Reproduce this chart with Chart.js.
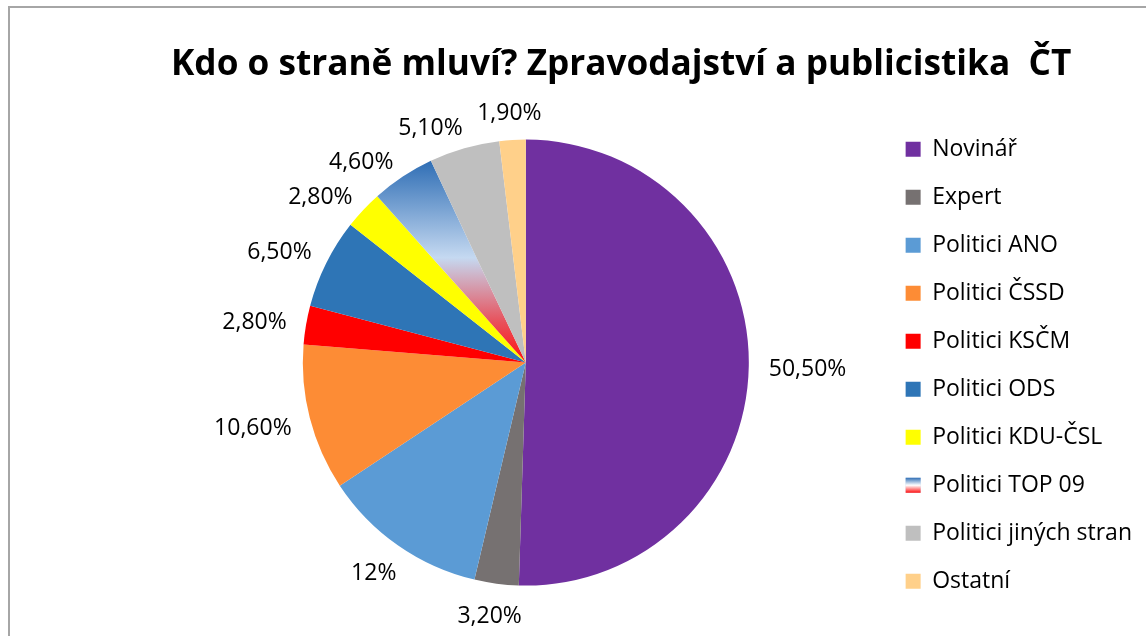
<!DOCTYPE html>
<html lang="cs">
<head>
<meta charset="utf-8">
<title>Kdo o straně mluví?</title>
<script src="https://cdn.jsdelivr.net/npm/chart.js@4.4.1/dist/chart.umd.min.js"></script>
<style>
    body { margin: 0; background: #fff; }
    #obal { position: relative; width: 1146px; height: 636px; }
    #graf { display: block; }
    #ramecek {
        position: absolute; left: 8px; top: 6px; right: 0; bottom: 0;
        border-left: 2px solid #A6A6A6; border-top: 2px solid #A6A6A6;
        pointer-events: none;
    }
</style>
</head>
<body>
<div id="obal">
    <canvas id="graf" width="1146" height="636"></canvas>
    <div id="ramecek"></div>
</div>
<script>
// Data grafu
const kategorie = ['Novinář', 'Expert', 'Politici ANO', 'Politici ČSSD', 'Politici KSČM',
    'Politici ODS', 'Politici KDU-ČSL', 'Politici TOP 09', 'Politici jiných stran', 'Ostatní'];
const podily = [50.5, 3.2, 12, 10.6, 2.8, 6.5, 2.8, 4.6, 5.1, 1.9];

// Barvy výsečí (TOP 09 dostane přechod v pluginu)
const barvy = ['#7030A0', '#767171', '#5B9BD5', '#FD8C35', '#FF0000',
    '#2E75B6', '#FFFF00', '#C5D9F1', '#BFBFBF', '#FFD08A'];
const indexTop09 = 7;

function formatPodil(v) {
    if (Number.isInteger(v)) return v + '%';
    return v.toFixed(2).replace('.', ',') + '%';
}

function pridejZastavky(g) {
    g.addColorStop(0, '#2F6EB5');
    g.addColorStop(0.48, '#C5D9F1');
    g.addColorStop(0.8, '#E8505A');
    g.addColorStop(1, '#FF1010');
}

// Přechod pro výseč TOP 09 a její čtvereček v legendě
const prechodPlugin = {
    id: 'prechodTop09',
    beforeDatasetsDraw(chart) {
        const arc = chart.getDatasetMeta(0).data[indexTop09];
        if (!arc) return;
        const p = arc.getProps(['x', 'y', 'startAngle', 'endAngle', 'outerRadius'], true);
        const yHore = p.y + p.outerRadius * Math.min(Math.sin(p.startAngle), Math.sin(p.endAngle));
        const g = chart.ctx.createLinearGradient(0, yHore, 0, p.y);
        pridejZastavky(g);
        arc.options.backgroundColor = g;
    },
    afterDraw(chart) {
        const legenda = chart.legend;
        if (!legenda || !legenda.legendHitBoxes) return;
        const hb = legenda.legendHitBoxes[indexTop09];
        const opts = legenda.options.labels;
        const vyskaPolozky = Math.max(opts.font.size, opts.boxHeight);
        const x = hb.left;
        const y = hb.top + (vyskaPolozky - opts.boxHeight) / 2;
        const ctx = chart.ctx;
        const g = ctx.createLinearGradient(0, y, 0, y + opts.boxHeight);
        g.addColorStop(0, '#2F6EB5');
        g.addColorStop(0.5, '#FFFFFF');
        g.addColorStop(1, '#FF1010');
        ctx.save();
        ctx.fillStyle = g;
        ctx.fillRect(x, y, opts.boxWidth, opts.boxHeight);
        ctx.restore();
    }
};

// Popisky hodnot vně výsečí, s jednoduchým odsunutím při překryvu
const popiskyPlugin = {
    id: 'popisky',
    afterDatasetsDraw(chart, args, opts) {
        const ctx = chart.ctx;
        const meta = chart.getDatasetMeta(0);
        ctx.save();
        ctx.font = opts.font;
        ctx.fillStyle = opts.color;
        ctx.textAlign = 'center';
        ctx.textBaseline = 'middle';

        const polozky = meta.data.map((arc, i) => {
            const p = arc.getProps(['x', 'y', 'startAngle', 'endAngle', 'outerRadius'], true);
            const text = formatPodil(podily[i]);
            return { p, text, w: ctx.measureText(text).width, uhel: (p.startAngle + p.endAngle) / 2 };
        });

        const poloha = (o, uhel) => {
            const cos = Math.cos(uhel), sin = Math.sin(uhel);
            const d = o.p.outerRadius + opts.odsazeni;
            const x = o.p.x + cos * d + cos * o.w / 2;
            const y = o.p.y + sin * d + sin * opts.vyska / 2;
            return { x, y };
        };
        const prekryv = (a, b) => {
            const pa = poloha(a, a.uhel), pb = poloha(b, b.uhel);
            const dx = Math.abs(pa.x - pb.x) - (a.w + b.w) / 2;
            const dy = Math.abs(pa.y - pb.y) - opts.vyska;
            return dx < opts.mezera && dy < opts.mezera;
        };

        // od posledního popisku proti směru hodinových ručiček
        for (let i = polozky.length - 2; i >= 1; i--) {
            let krok = 0;
            while (prekryv(polozky[i], polozky[i + 1]) && krok < 200) {
                polozky[i].uhel -= Math.PI / 720;
                krok++;
            }
        }

        polozky.forEach(o => {
            const pos = poloha(o, o.uhel);
            ctx.fillText(o.text, pos.x, pos.y + opts.posunY);
        });
        ctx.restore();
    }
};

Chart.defaults.font.family = "'Open Sans', sans-serif";
Chart.defaults.color = '#000';

new Chart(document.getElementById('graf'), {
    type: 'pie',
    data: {
        labels: kategorie,
        datasets: [{
            data: podily,
            backgroundColor: barvy,
            borderWidth: 0,
            hoverOffset: 0,
            radius: 223
        }]
    },
    options: {
        responsive: false,
        animation: false,
        events: [],
        layout: {
            padding: { left: 171, right: 4, top: 10, bottom: 5 }
        },
        plugins: {
            title: {
                display: true,
                text: 'Kdo o straně mluví? Zpravodajství a publicistika  ČT',
                align: 'start',
                color: '#000',
                font: { size: 35.2, weight: 'bold' },
                padding: { top: 34, bottom: 8 }
            },
            legend: {
                position: 'right',
                title: {
                    display: true,
                    text: '',
                    font: { size: 10 },
                    padding: { top: 0, bottom: 77.5 }
                },
                labels: {
                    boxWidth: 15,
                    boxHeight: 15,
                    padding: 25,
                    color: '#000',
                    font: { size: 23 }
                }
            },
            tooltip: { enabled: false },
            popisky: {
                font: "23px 'Open Sans', sans-serif",
                color: '#000',
                odsazeni: 20,
                vyska: 20,
                mezera: 14,
                posunY: 3
            }
        }
    },
    plugins: [prechodPlugin, popiskyPlugin]
});
</script>
</body>
</html>
